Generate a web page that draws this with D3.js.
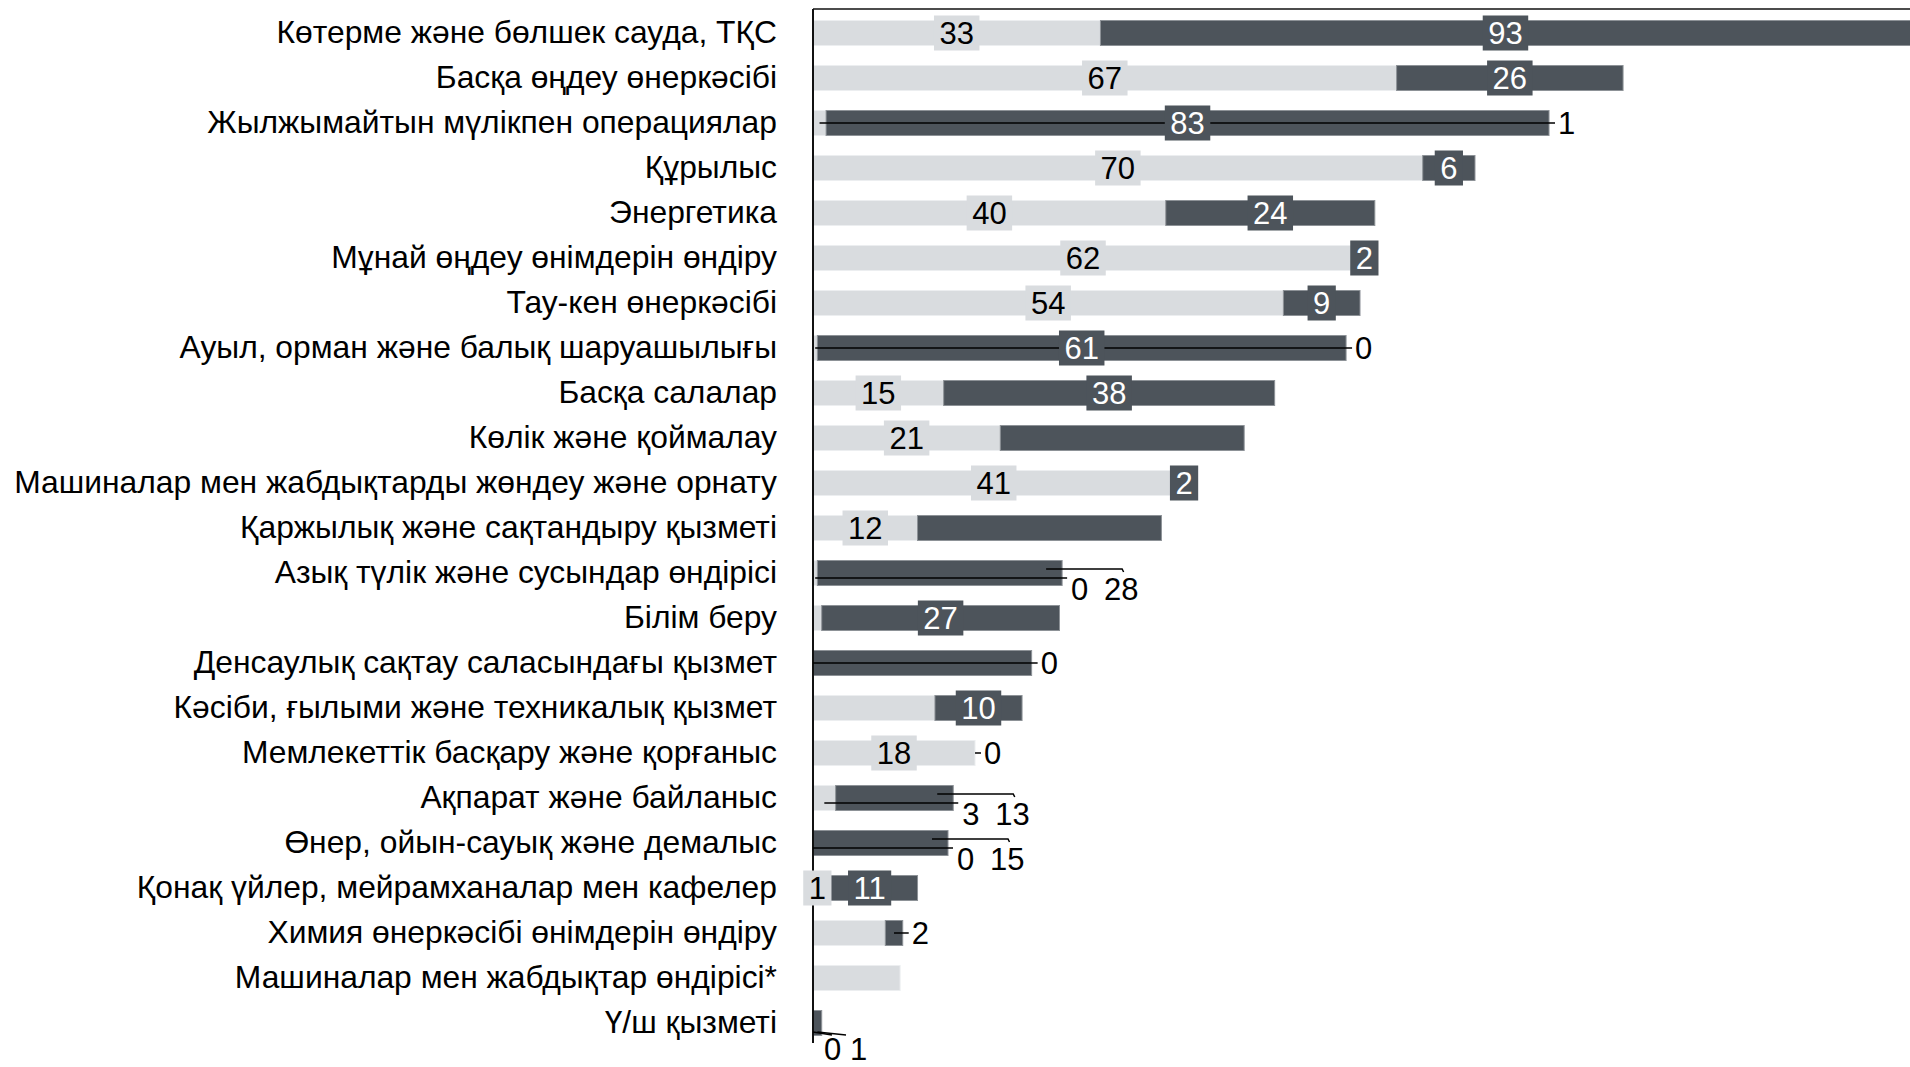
<!DOCTYPE html>
<meta charset="utf-8">
<style>
body { margin: 0; background: #fff; }
svg { display: block; font-family: "Liberation Sans", Arial, sans-serif; }
.cat text { font-size: 31.8px; fill: #000; }
.val { font-size: 31px; }
</style>
<svg width="1910" height="1067"></svg>
<script src="https://cdnjs.cloudflare.com/ajax/libs/d3/7.8.5/d3.min.js"></script>
<script>

// categories, top to bottom
var categories = [
  "Көтерме және бөлшек сауда, ТҚС",
  "Басқа өңдеу өнеркәсібі",
  "Жылжымайтын мүлікпен операциялар",
  "Құрылыс",
  "Энергетика",
  "Мұнай өңдеу өнімдерін өндіру",
  "Тау-кен өнеркәсібі",
  "Ауыл, орман және балық шаруашылығы",
  "Басқа салалар",
  "Көлік және қоймалау",
  "Машиналар мен жабдықтарды жөндеу және орнату",
  "Қаржылық және сақтандыру қызметі",
  "Азық түлік және сусындар өндірісі",
  "Білім беру",
  "Денсаулық сақтау саласындағы қызмет",
  "Кәсіби, ғылыми және техникалық қызмет",
  "Мемлекеттік басқару және қорғаныс",
  "Ақпарат және байланыс",
  "Өнер, ойын-сауық және демалыс",
  "Қонақ үйлер, мейрамханалар мен кафелер",
  "Химия өнеркәсібі өнімдерін өндіру",
  "Машиналар мен жабдықтар өндірісі*",
  "Ү/ш қызметі"
];

// bar lengths
var lightLen = [33, 67, 1.5, 70, 40.5, 62, 54, 0.5, 15, 21.5, 41.5, 12, 0.5, 1, 0, 14, 18.6, 2.6, 0, 1, 8.3, 10, 0];
var darkLen  = [93, 26, 83, 6, 24, 2.6, 8.8, 60.7, 38, 28, 2.2, 28, 28.1, 27.3, 25.1, 10, 0, 13.5, 15.5, 11, 2, 0, 1];

// printed data labels (null = no label shown)
var lightLab = ["33", "67", "1", "70", "40", "62", "54", "0", "15", "21", "41", "12", "0", null, "0", null, "18", "3", "0", "1", null, null, "0"];
var darkLab  = ["93", "26", "83", "6", "24", "2", "9", "61", "38", null, "2", null, "28", "27", null, "10", "0", "13", "15", "11", "2", null, "1"];

// where each label sits: in = boxed on the segment, end = right of bar,
// low = pair under the bar end, foot = pair under the bar start
var lightMode = ["in", "in", "end", "in", "in", "in", "in", "end", "in", "in", "in", "in", "low", null, "end", null, "in", "low", "low", "in", null, null, "foot"];
var darkMode  = ["in", "in", "in", "in", "in", "in", "in", "in", "in", null, "in", null, "low", "in", null, "in", "end", "low", "low", "in", "end", null, "foot"];

var lightColor = "#d9dcdf",
    darkColor = "#4d545b";

var svg = d3.select("svg"),
    width = +svg.attr("width"),
    height = +svg.attr("height");

var x = d3.scaleLinear()
    .domain([0, 126])
    .range([813, 1910.5]);

var y = d3.scaleBand()
    .domain(categories)
    .range([10.5, 1045.5])
    .paddingInner(20 / 45)
    .paddingOuter(10 / 45);

var rows = categories.map(function(c, i) {
  return {
    cat: c, i: i,
    l0: 0, l1: lightLen[i],
    d0: lightLen[i], d1: lightLen[i] + darkLen[i]
  };
});

function cy(d) { return y(d.cat) + y.bandwidth() / 2; }

// category labels
svg.append("g")
    .attr("class", "cat")
    .attr("transform", "translate(" + x(0) + ",0)")
    .call(d3.axisLeft(y).tickSize(0).tickPadding(36))
    .call(function(g) { g.select(".domain").remove(); });

// bars
var bars = svg.append("g");
bars.selectAll("rect.light")
  .data(rows)
  .enter().append("rect")
    .attr("class", "light")
    .attr("x", function(d) { return x(d.l0); })
    .attr("width", function(d) { return x(d.l1) - x(d.l0); })
    .attr("y", function(d) { return y(d.cat); })
    .attr("height", y.bandwidth())
    .attr("fill", lightColor)
    .attr("stroke", "#eceef0")
    .attr("stroke-width", 1);

bars.selectAll("rect.dark")
  .data(rows)
  .enter().append("rect")
    .attr("class", "dark")
    .attr("x", function(d) { return x(d.d0); })
    .attr("width", function(d) { return x(d.d1) - x(d.d0); })
    .attr("y", function(d) { return y(d.cat); })
    .attr("height", y.bandwidth())
    .attr("fill", darkColor)
    .attr("stroke", "#8d9297")
    .attr("stroke-width", 1);

// frame: top line and left axis line
svg.append("line")
    .attr("x1", x(0)).attr("x2", width)
    .attr("y1", 9).attr("y2", 9)
    .attr("stroke", "#111").attr("stroke-width", 1.5);
svg.append("line")
    .attr("x1", x(0)).attr("x2", x(0))
    .attr("y1", 9).attr("y2", 1043)
    .attr("stroke", "#111").attr("stroke-width", 2);

// data labels
var labels = svg.append("g");

function addLabel(d, series) {
  var i = d.i,
      isLight = series === "light",
      txt = isLight ? lightLab[i] : darkLab[i],
      mode = isLight ? lightMode[i] : darkMode[i];
  if (txt == null || mode == null) return;
  var a = isLight ? d.l0 : d.d0,
      b = isLight ? d.l1 : d.d1,
      mid = (x(a) + x(b)) / 2,
      end = x(d.d1),
      c = cy(d);

  if (mode === "in") {
    var g = labels.append("g");
    var box = g.append("rect").attr("fill", isLight ? lightColor : darkColor);
    var t = g.append("text")
        .attr("class", "val")
        .attr("x", mid).attr("y", c)
        .attr("text-anchor", "middle")
        .attr("dominant-baseline", "central")
        .attr("fill", isLight ? "#000" : "#fff")
        .text(txt);
    var w = t.node().getComputedTextLength() + 11;
    box.attr("x", mid - w / 2).attr("width", w)
       .attr("y", c - 17.5).attr("height", 35);
  } else if (mode === "end") {
    labels.append("line")
        .attr("x1", mid).attr("x2", end + 6)
        .attr("y1", c).attr("y2", c)
        .attr("stroke", "#000").attr("stroke-width", 1.5);
    labels.append("text")
        .attr("class", "val")
        .attr("x", end + 9).attr("y", c)
        .attr("dominant-baseline", "central")
        .attr("fill", "#000")
        .text(txt);
  } else if (mode === "low") {
    if (isLight) {
      labels.append("line")
          .attr("x1", mid).attr("x2", end + 5)
          .attr("y1", c + 5).attr("y2", c + 5)
          .attr("stroke", "#000").attr("stroke-width", 1.5);
      labels.append("text")
          .attr("class", "val")
          .attr("x", end + 9).attr("y", c + 16)
          .attr("dominant-baseline", "central")
          .text(txt);
    } else {
      labels.append("path")
          .attr("d", "M" + (end - 16) + "," + (c - 4) + "H" + (end + 60) + "l1.5,3")
          .attr("fill", "none")
          .attr("stroke", "#000").attr("stroke-width", 1.5);
      labels.append("text")
          .attr("class", "val")
          .attr("x", end + 42).attr("y", c + 16)
          .attr("dominant-baseline", "central")
          .text(txt);
    }
  } else if (mode === "foot") {
    var tx = x(0) + (isLight ? 11 : 37);
    labels.append("line")
        .attr("x1", mid).attr("y1", c + 9)
        .attr("x2", isLight ? tx + 8 : tx - 4).attr("y2", c + 12)
        .attr("stroke", "#000").attr("stroke-width", 1.5);
    labels.append("text")
        .attr("class", "val")
        .attr("x", tx).attr("y", c + 26)
        .attr("dominant-baseline", "central")
        .text(txt);
  }
}

rows.forEach(function(d) {
  addLabel(d, "light");
  addLabel(d, "dark");
});

</script>
